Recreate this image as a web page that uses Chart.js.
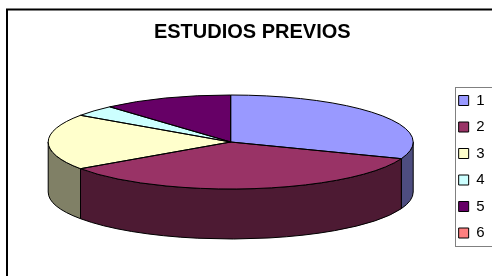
<!DOCTYPE html>
<html>
<head>
<meta charset="utf-8">
<script src="https://cdn.jsdelivr.net/npm/chart.js@4.4.0/dist/chart.umd.min.js"></script>
<style>
html, body { margin: 0; padding: 0; background: #fff; }
</style>
</head>
<body>
<canvas id="chart" width="492" height="276"></canvas>
<script>
const labels = ['1', '2', '3', '4', '5', '6'];
const values = [8, 9, 5, 1, 3, 0];
const colors = ['#9999FF', '#993366', '#FFFFCC', '#CCFFFF', '#660066', '#FF8080'];
const chartTitle = 'ESTUDIOS PREVIOS';

// excel style 3d pie: where the top ellipse sits and how thick the disc is
const PIE_X = 230.7, PIE_Y = 142, PIE_RX = 182.5, PIE_RY = 47, PIE_DEPTH = 50;
const FONT = 'Arial, "Liberation Sans", sans-serif';

function darker(hex) {
    const n = parseInt(hex.slice(1), 16);
    const r = (n >> 16) & 255, g = (n >> 8) & 255, b = n & 255;
    return 'rgb(' + Math.round(r / 2) + ',' + Math.round(g / 2) + ',' + Math.round(b / 2) + ')';
}

const pie3d = {
    id: 'pie3d',
    beforeDraw(chart) {
        // outer chart frame
        const ctx = chart.ctx;
        ctx.save();
        ctx.strokeStyle = '#000';
        ctx.lineWidth = 2;
        ctx.strokeRect(7, 9.5, 700, 500);
        ctx.restore();
    },
    beforeDatasetsDraw(chart) {
        const ctx = chart.ctx;
        const arcs = chart.getDatasetMeta(0).data;
        // side walls, only the front half (0..PI) can be seen
        ctx.save();
        ctx.lineWidth = 1;
        ctx.strokeStyle = '#000';
        arcs.forEach((arc, i) => {
            const a = Math.max(arc.startAngle, 0);
            const b = Math.min(arc.endAngle, Math.PI);
            if (b <= a) return;
            ctx.beginPath();
            ctx.ellipse(PIE_X, PIE_Y, PIE_RX, PIE_RY, 0, a, b);
            ctx.lineTo(PIE_X + PIE_RX * Math.cos(b), PIE_Y + PIE_DEPTH + PIE_RY * Math.sin(b));
            ctx.ellipse(PIE_X, PIE_Y + PIE_DEPTH, PIE_RX, PIE_RY, 0, b, a, true);
            ctx.closePath();
            ctx.fillStyle = darker(colors[i]);
            ctx.fill();
            ctx.stroke();
        });
        ctx.restore();
        // squash the round pie into the top ellipse
        const first = arcs[0];
        ctx.save();
        ctx.translate(PIE_X, PIE_Y);
        ctx.scale(PIE_RX / first.outerRadius, PIE_RY / first.outerRadius);
        ctx.translate(-first.x, -first.y);
    },
    afterDatasetsDraw(chart) {
        const ctx = chart.ctx;
        ctx.restore();
        ctx.save();
        ctx.lineWidth = 1;
        ctx.strokeStyle = '#000';
        chart.getDatasetMeta(0).data.forEach(arc => {
            if (arc.endAngle - arc.startAngle <= 0) return;
            ctx.beginPath();
            ctx.moveTo(PIE_X, PIE_Y);
            ctx.ellipse(PIE_X, PIE_Y, PIE_RX, PIE_RY, 0, arc.startAngle, arc.endAngle);
            ctx.closePath();
            ctx.stroke();
        });
        ctx.restore();
    },
    afterDraw(chart) {
        // box round the legend
        const hb = chart.legend.legendHitBoxes;
        const first = hb[0], last = hb[hb.length - 1];
        const row = hb[1].top - hb[0].top;
        const top = first.top + first.height / 2 - row / 2;
        const bottom = last.top + last.height / 2 + row / 2;
        const ctx = chart.ctx;
        ctx.save();
        ctx.strokeStyle = '#808080';
        ctx.lineWidth = 1;
        ctx.strokeRect(Math.round(first.left - 4) + 0.5, Math.round(top) + 0.5, 100, Math.round(bottom - top));
        ctx.restore();
    }
};

const ctx = document.getElementById('chart');
new Chart(ctx, {
    type: 'pie',
    data: {
        labels: labels,
        datasets: [{
            data: values,
            backgroundColor: colors,
            borderWidth: 0
        }]
    },
    options: {
        responsive: false,
        animation: false,
        events: [],
        layout: { padding: { left: 10, right: -2.5, top: 0, bottom: 24 } },
        plugins: {
            tooltip: { enabled: false },
            title: {
                display: true,
                text: chartTitle,
                color: '#000',
                font: { family: FONT, size: 20, weight: 'bold' },
                padding: { top: 20.8, bottom: 16 }
            },
            legend: {
                position: 'right',
                align: 'end',
                labels: {
                    boxWidth: 10,
                    boxHeight: 10,
                    padding: 11.5,
                    color: '#000',
                    font: { family: FONT, size: 15 },
                    generateLabels: () => labels.map((t, i) => ({
                        text: t,
                        fillStyle: colors[i],
                        strokeStyle: '#000',
                        lineWidth: 1,
                        hidden: false,
                        index: i
                    }))
                }
            }
        }
    },
    plugins: [pie3d]
});
</script>
</body>
</html>
